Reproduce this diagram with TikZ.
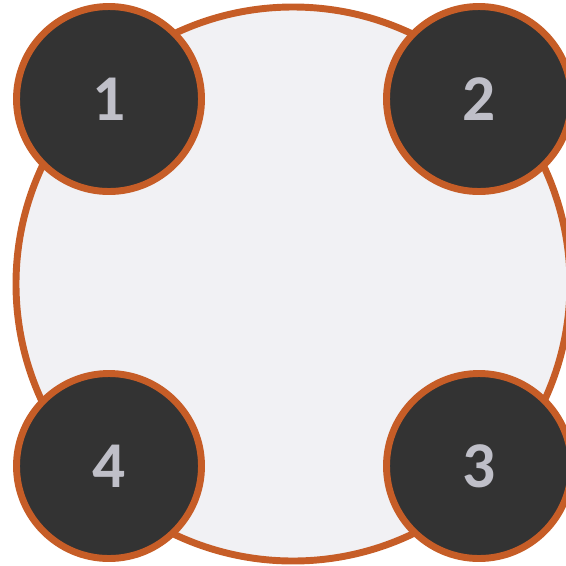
\documentclass[tikz,border=0pt]{standalone}
\usepackage{fontspec}
\setmainfont{Carlito}
\definecolor{ring}{HTML}{C65D27}
\definecolor{dark}{HTML}{333333}
\definecolor{pale}{HTML}{F1F1F4}
\definecolor{numc}{HTML}{BFBFC8}
\begin{document}
\begin{tikzpicture}[x=0.75pt,y=-0.75pt,
  bigc/.style={circle,draw=ring,fill=pale,line width=5.2pt,minimum size=554*0.75pt,inner sep=0pt},
  numc/.style={circle,draw=ring,fill=dark,line width=5.2pt,minimum size=185*0.75pt,inner sep=0pt,
    text=numc,font=\fontsize{49}{52}\selectfont\bfseries}]
\useasboundingbox (0,0) rectangle (566,565);
\clip (0,0) rectangle (566,565);
\node[bigc] (big) at (293,284) {};
\node[numc] (n1) at (109,99) {1};
\node[numc] (n2) at (479,99) {2};
\node[numc] (n4) at (109,466) {4};
\node[numc] (n3) at (479,466) {3};
\end{tikzpicture}
\end{document}
